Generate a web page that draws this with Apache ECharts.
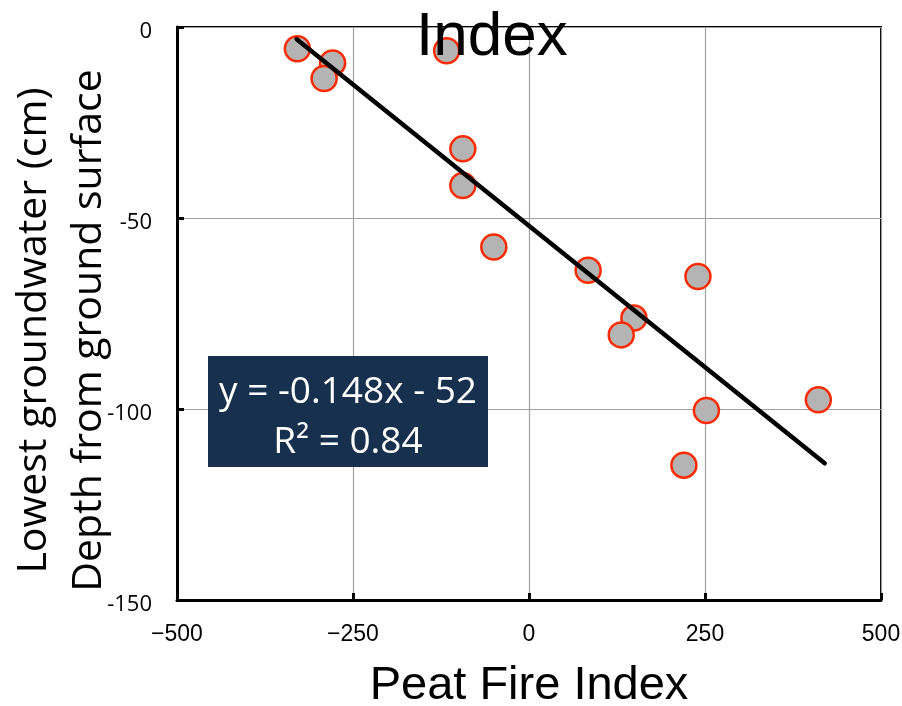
<!DOCTYPE html>
<html>
<head>
<meta charset="utf-8">
<script src="https://cdn.jsdelivr.net/npm/echarts@6/dist/echarts.min.js"></script>
<style>
  html, body { margin: 0; padding: 0; background: #fff; }
  #chart { width: 902px; height: 706px; }
</style>
</head>
<body>
<div id="chart"></div>
<script>
// Peat fire index vs. lowest groundwater level
const peatIndex = [-329, -279, -291, -117, -94, -94, -50, 84, 240, 149, 131, 252, 411, 220];
const waterDepth = [-5.7, -9.4, -13.5, -6.2, -31.9, -41.5, -57.6, -63.7, -65.3, -76.2, -80.6, -100.4, -97.6, -114.7];

// fitted line end points (y = -0.148x - 52)
const trendX = [-330, 420];
const trendY = [-3.2, -114.2];

const xTicks = [-500, -250, 0, 250, 500];
const yTicks = [0, -50, -100, -150];

const chart = echarts.init(document.getElementById('chart'));

const points = peatIndex.map((x, i) => [x, waterDepth[i]]);
const trend = trendX.map((x, i) => [x, trendY[i]]);

const options = {
  animation: false,
  title: {
    text: 'Index',
    left: 411,
    top: 2,
    z: 20,
    textStyle: {
      fontFamily: 'Liberation Sans',
      fontSize: 62,
      fontWeight: 'normal',
      color: '#000'
    }
  },
  grid: {
    left: 177,
    right: 21,
    top: 27,
    bottom: 106,
    outerBoundsMode: 'none',
    containLabel: false,
    show: true,
    borderColor: '#000',
    borderWidth: 2
  },
  xAxis: {
    type: 'value',
    min: xTicks[0],
    max: xTicks[xTicks.length - 1],
    interval: 250,
    name: 'Peat Fire Index',
    nameLocation: 'middle',
    nameGap: 63,
    nameMoveOverlap: false,
    nameTextStyle: {
      fontFamily: 'Liberation Sans',
      fontSize: 47,
      color: '#000'
    },
    axisLine: { onZero: false, lineStyle: { color: '#000', width: 3 } },
    axisTick: { inside: true, length: 7, lineStyle: { color: '#000', width: 3 } },
    axisLabel: {
      margin: 23,
      fontFamily: 'Liberation Sans',
      fontSize: 23,
      color: '#000',
      formatter: v => String(v).replace('-', '\u2212')
    },
    splitLine: { lineStyle: { color: '#a0a0a0', width: 1.2 } }
  },
  yAxis: {
    type: 'value',
    min: yTicks[yTicks.length - 1],
    max: yTicks[0],
    interval: 50,
    name: 'Lowest groundwater (cm)\nDepth from ground surface',
    nameLocation: 'middle',
    nameGap: 60,
    nameRotate: 90,
    nameMoveOverlap: false,
    nameTextStyle: {
      fontFamily: 'Open Sans',
      fontSize: 41,
      lineHeight: 55,
      color: '#000',
      padding: [0, 34, 0, 0]
    },
    axisLine: { onZero: false, lineStyle: { color: '#000', width: 3 } },
    axisTick: { inside: true, length: 7, lineStyle: { color: '#000', width: 3 } },
    axisLabel: {
      margin: 25,
      fontFamily: 'Open Sans',
      fontSize: 22,
      color: '#000',
      verticalAlign: 'top',
      lineHeight: 10
    },
    splitLine: { lineStyle: { color: '#a0a0a0', width: 1.2 } }
  },
  series: [
    {
      name: 'sites',
      type: 'scatter',
      data: points,
      symbol: 'circle',
      symbolSize: 25,
      z: 3,
      itemStyle: {
        color: '#b4b4b4',
        borderColor: '#ff2a00',
        borderWidth: 2.5,
        opacity: 1
      }
    },
    {
      name: 'fit',
      type: 'line',
      data: trend,
      symbol: 'none',
      z: 4,
      lineStyle: { color: '#000', width: 4.5, cap: 'round' }
    }
  ],
  graphic: [
    {
      type: 'rect',
      shape: { x: 208, y: 356, width: 280, height: 111 },
      style: { fill: '#17304e' },
      z: 10
    },
    {
      type: 'text',
      x: 348,
      y: 417,
      z: 11,
      style: {
        text: 'y = -0.148x - 52\nR\u00b2 = 0.84',
        fill: '#fff',
        font: '37px "Open Sans"',
        lineHeight: 50,
        align: 'center',
        verticalAlign: 'middle'
      }
    }
  ]
};

chart.setOption(options);
</script>
</body>
</html>
